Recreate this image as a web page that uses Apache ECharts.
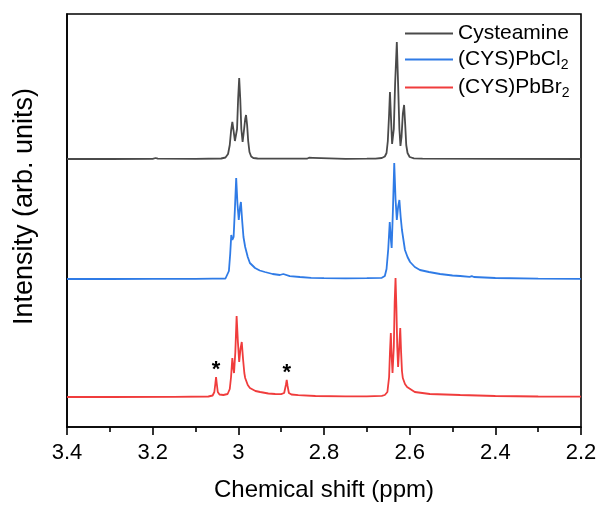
<!DOCTYPE html>
<html><head><meta charset="utf-8">
<script src="https://cdn.jsdelivr.net/npm/echarts@6/dist/echarts.min.js"></script>
<style>html,body{margin:0;padding:0;background:#fff}#c{width:600px;height:510px}</style>
</head><body><div id="c"></div>
<script>
// Series names and colours
var seriesNames = ['Cysteamine', '(CYS)PbCl2', '(CYS)PbBr2'];
var seriesColors = ['#4a4a4a', '#2f7be6', '#f03c3c'];
// Vertical offsets of the stacked traces (arb. units)
var offsets = [238, 118, 0];
var baseLevel = 30;

// Tick labels of the x axis (ppm)
var xTicks = [3.4, 3.2, 3.0, 2.8, 2.6, 2.4, 2.2];

// [ppm, intensity]
var cysteamine = [
  [3.40,0],[3.30,0],[3.20,0.2],[3.193,1],[3.188,0.3],[3.10,0.2],[3.04,0.5],
  [3.030,1.5],[3.024,5],[3.020,14],[3.017,28],[3.014,37],[3.011,28],[3.008,18],[3.006,16],
  [3.003,30],[3.0005,60],[2.998,81],[2.9955,60],[2.993,30],[2.990,17],[2.987,28],[2.984,40],
  [2.982,44],[2.9795,34],[2.977,18],[2.974,7],[2.970,2.5],[2.965,1],[2.955,0.5],[2.90,0.3],
  [2.84,0.3],[2.835,1.3],[2.831,0.4],[2.826,1.2],[2.822,0.3],[2.75,0.2],[2.70,0.3],
  [2.68,0.4],[2.665,1],[2.658,2.5],[2.654,6],[2.651,18],[2.648,45],[2.646,67],[2.6435,40],
  [2.641,15],[2.6395,13],[2.637,30],[2.634,75],[2.630,117],[2.627,75],[2.624,30],[2.6215,13],
  [2.619,22],[2.616,45],[2.613,54],[2.6105,35],[2.608,14],[2.605,6],[2.600,2],[2.590,0.7],
  [2.57,0.3],[2.40,0.1],[2.20,0]
];
var pbcl2 = [
  [3.40,0],[3.30,0],[3.20,0.2],[3.10,0.2],[3.06,0.3],[3.057,1.5],[3.054,0.3],[3.03,0.5],
  [3.026,2],[3.022,8],[3.019,25],[3.0165,44],[3.014,39],[3.011,42],[3.008,70],[3.005,101],
  [3.002,75],[2.999,59],[2.996,72],[2.994,77],[2.991,58],[2.988,42],[2.984,32],[2.978,22],
  [2.973,16],[2.961,11],[2.950,8.5],[2.938,7],[2.920,5],[2.903,4],[2.895,5],[2.892,3.5],
  [2.880,2.8],[2.856,2],[2.83,1.2],[2.80,0.8],[2.75,0.7],[2.70,0.8],
  [2.665,1.2],[2.658,3],[2.654,10],[2.650,30],[2.6465,57],[2.644,40],[2.642,31],[2.639,70],
  [2.636,116],[2.633,80],[2.630,59],[2.627,72],[2.624,79],[2.621,62],[2.618,49],[2.611,29],
  [2.605,22],[2.599,17],[2.588,12],[2.576,9],[2.555,7],[2.529,5],[2.50,3.5],[2.482,3],
  [2.46,2.2],[2.455,2.8],[2.45,2],[2.40,1],[2.30,0.4],[2.20,0.2]
];
var pbbr2 = [
  [3.40,0],[3.30,0],[3.15,0.2],[3.07,0.5],[3.060,1.5],[3.056,5],[3.0535,14],[3.052,20],
  [3.0505,14],[3.048,5],[3.044,2.5],[3.035,2],[3.025,3],[3.020,8],[3.017,20],[3.014,39],
  [3.012,30],[3.010,24],[3.007,45],[3.004,81],[3.001,55],[2.998,35],[2.995,48],[2.992,55],
  [2.989,38],[2.986,24],[2.984,19],[2.978,12],[2.973,9],[2.960,6],[2.949,5],[2.930,3.5],
  [2.914,3],[2.900,2.8],[2.893,4],[2.889,12],[2.887,17],[2.885,11],[2.882,4],[2.876,2.5],
  [2.86,1.8],[2.82,1],[2.75,0.6],[2.70,0.6],
  [2.665,1.2],[2.658,2],[2.652,5],[2.648,20],[2.646,45],[2.644,64],[2.642,40],[2.640,24],
  [2.639,22],[2.637,50],[2.635,95],[2.633,119],[2.631,90],[2.629,50],[2.627,30],[2.625,45],
  [2.622,69],[2.620,45],[2.618,26],[2.616,19],[2.611,13],[2.606,10],[2.588,5],[2.553,3],
  [2.482,2],[2.40,1],[2.30,0.5],[2.20,0.3]
];
// Asterisk-marked impurity peaks on the (CYS)PbBr2 trace: [ppm, intensity]
var starPeaks = [[3.052,20],[2.887,17]];
var starLabel = '*';

var traces = [cysteamine, pbcl2, pbbr2];

var series = traces.map(function (d, i) {
  var s = {
    name: seriesNames[i],
    type: 'line',
    showSymbol: false,
    symbol: 'none',
    animation: false,
    lineStyle: { width: 1.8, color: seriesColors[i] },
    itemStyle: { color: seriesColors[i] },
    data: d.map(function (p) { return [p[0], p[1] + offsets[i] + baseLevel]; })
  };
  if (i === 2) {
    s.markPoint = {
      symbol: 'circle', symbolSize: 0, animation: false,
      label: { show: true, formatter: starLabel, color: '#000', fontSize: 22, fontWeight: 'bold',
               fontFamily: 'Liberation Sans', position: 'top', distance: 0, offset: [0, 4] },
      data: starPeaks.map(function (p) { return { coord: [p[0], p[1] + offsets[i] + baseLevel] }; })
    };
  }
  return s;
});

var chart = echarts.init(document.getElementById('c'), null, { renderer: 'canvas' });
chart.setOption({
  backgroundColor: '#fff',
  animation: false,
  textStyle: { fontFamily: 'Liberation Sans' },
  grid: { left: 67, right: 19, top: 14, bottom: 83, show: true, borderColor: '#000', borderWidth: 1.6, backgroundColor: 'transparent' },
  legend: {
    orient: 'vertical', left: 405, top: 23, itemWidth: 48, itemHeight: 2, itemGap: 5, padding: 0,
    icon: 'rect',
    data: seriesNames,
    textStyle: { fontSize: 21, color: '#000', fontFamily: 'Liberation Sans',
      rich: { sub: { fontSize: 14, padding: [11, 0, 0, 0], fontFamily: 'Liberation Sans', color: '#000' } } },
    formatter: function (n) { return n.replace(/(\d)$/, '{sub|$1}'); }
  },
  xAxis: {
    type: 'value', inverse: true, min: 2.2, max: 3.4, interval: 0.2,
    name: 'Chemical shift (ppm)', nameLocation: 'middle', nameGap: 51,
    nameTextStyle: { fontSize: 24, color: '#000', fontFamily: 'Liberation Sans' },
    axisLine: { show: true, lineStyle: { color: '#000', width: 1.6 } },
    axisTick: { show: true, inside: false, length: 8, lineStyle: { color: '#000', width: 1.6 } },
    minorTick: { show: true, splitNumber: 2, length: 5, lineStyle: { color: '#000', width: 1.6 } },
    splitLine: { show: false },
    axisLabel: { fontSize: 22, color: '#000', margin: 15, fontFamily: 'Liberation Sans',
      formatter: function (v) { return String(+v.toFixed(1)); } }
  },
  yAxis: {
    type: 'value', min: 0, max: 413,
    name: 'Intensity (arb. units)', nameLocation: 'middle', nameGap: 29,
    nameTextStyle: { fontSize: 27, color: '#000', fontFamily: 'Liberation Sans', padding: [0, 0, 0, 28] },
    axisLine: { show: true, lineStyle: { color: '#000', width: 1.6 } },
    axisTick: { show: false }, axisLabel: { show: false }, splitLine: { show: false }
  },
  series: series
});
</script></body></html>
